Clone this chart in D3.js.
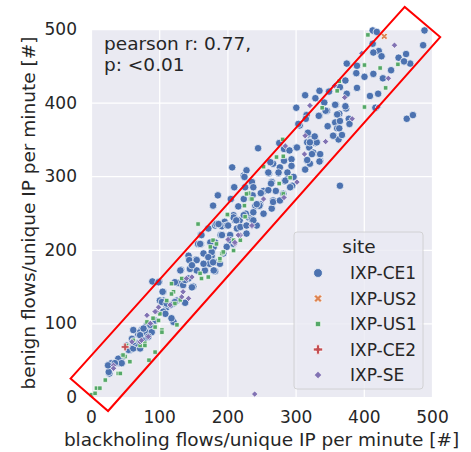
<!DOCTYPE html>
<html>
  <head>
    <meta http-equiv="content-type" content="text/html; charset=UTF-8">
    <title>blackholing vs benign</title>
    <script type='text/javascript' src='https://d3js.org/d3.v7.min.js'></script>
    <style type='text/css'>
      body { margin: 0; background-color: white; }
      text { font-family: "DejaVu Sans", sans-serif; fill: #262626; }
    </style>
  </head>
  <body>
    <script type='text/javascript'>
      var ticks = [0, 100, 200, 300, 400, 500];
      var sites = ["IXP-CE1", "IXP-US2", "IXP-US1", "IXP-CE2", "IXP-SE"];
      var colors = ["#4C72B0", "#DD8452", "#55A868", "#C44E52", "#8172B3"];
      var annotation = ["pearson r: 0.77,", "p: <0.01"];
      // hand drawn highlight box, in data units
      var box = [[-30, 25], [25, -19], [512, 489], [460, 530]];

      var ce1 = [
        [413,498],[419,496],[489,498],[487,478],[413,480],[422,470],[414,468],[426,463],[451,461],[462,466],
        [468,453],[459,456],[440,444],[428,433],[414,439],[401,435],[390,450],[389,440],[375,453],[373,430],
        [365,421],[390,420],[409,409],[421,412],[417,393],[375,412],[359,397],[374,392],[335,416],[349,415],
        [342,400],[329,406],[314,410],[301,393],[316,383],[335,382],[346,389],[364,385],[358,373],[378,378],
        [365,375],[347,368],[361,365],[379,371],[315,378],[306,369],[319,357],[356,355],[363,350],[463,378],
        [472,383],[365,287],[245,338],[276,345],[283,337],[291,335],[301,339],[317,346],[320,339],[329,345],
        [326,332],[336,329],[317,321],[336,321],[314,309],[321,317],[294,323],[283,321],[267,317],[277,312],
        [261,304],[275,304],[290,299],[295,287],[284,293],[265,292],[253,280],[236,292],[224,301],[210,285],
        [237,274],[248,262],[265,256],[253,249],[267,267],[241,260],[224,269],[218,240],[209,247],[231,244],
        [207,312],[228,308],[225,299],[186,274],[179,260],[205,269],[216,259],[227,249],[247,260],[263,319],
        [260,305],[275,305],[288,305],[264,290],[271,280],[260,281],[282,276],[267,265],[277,267],[292,285],
        [285,294],[294,314],[302,339],[331,346],[324,330],[336,330],[317,322],[335,320],[297,299],[358,397],
        [373,395],[361,384],[344,389],[364,365],[355,355],[368,356],[334,382],[318,359],[328,354],[321,346],
        [304,371],[249,277],[224,247],[236,241],[196,238],[182,233],[192,232],[243,233],[90,157],[100,157],
        [106,143],[128,155],[143,161],[132,173],[143,192],[154,187],[161,208],[161,220],[176,210],[184,235],
        [199,233],[211,240],[214,229],[190,220],[204,220],[228,222],[238,240],[165,195],[177,192],[172,181],
        [155,172],[145,174],[167,172],[182,171],[182,183],[180,204],[135,152],[150,150],[106,131],[126,131],
        [111,122],[199,204],[194,195],[189,181],[209,208],[121,102],[108,127],[106,116],[94,104],[82,98],
        [89,93],[74,91],[69,86],[62,91],[77,77],[60,79],[52,70],[57,64],[43,46],[28,43],[27,32],[131,172],
        [144,186],[157,208],[172,229],[180,172],[174,181],[138,159],[148,149],[121,127],[101,131],[47,55],
        [123,129],[116,125],[138,128],[72,88],[81,88],[62,70],[55,64],[40,52],[30,46],[26,34],[25,43],
        [72,84],[62,66],[45,46],[35,46],[72,66],[67,73],[99,156],[105,143],[109,113],[118,107],[87,98],
        [77,93],[89,88],[84,82],[62,75],[104,129],[123,156],[111,127],[226,285],[238,285],[209,244],[201,233],
        [187,235],[213,240],[219,231],[192,220],[204,213],[182,210],[175,210],[162,220],[160,208],[177,197],
        [172,190],[179,183],[155,186],[148,179],[165,181],[238,251],[243,262],[228,233]
      ];
      var us2 = [[430,490]];
      var us1 = [
        [406,492],[401,451],[424,447],[450,452],[432,420],[401,394],[361,416],[339,393],[364,429],[281,350],
        [272,326],[282,327],[253,313],[276,290],[282,276],[231,277],[225,260],[226,245],[234,269],[157,235],
        [199,247],[292,298],[201,247],[175,204],[189,186],[209,199],[209,213],[121,143],[133,161],[162,161],
        [118,154],[131,132],[172,163],[104,91],[126,98],[160,168],[94,61],[72,70],[50,55],[40,32],[21,23],
        [8,12],[1,3],[179,213],[192,195],[99,104],[79,73],[47,57],[85,50],
        [57,48],[43,32],[13,12],[6,5],[62,77],[52,70],[79,70],[118,140],[111,131],[101,113],[91,107],
        [104,88],[94,95],[82,102],[123,127],[228,276],[236,269],[200,248],[219,213],[194,197],[189,188],[184,208]
      ];
      var ce2 = [[50,68]];
      var se = [
        [445,478],[436,433],[421,394],[383,378],[357,423],[372,407],[321,396],[344,347],[313,330],[302,292],
        [285,341],[253,269],[236,232],[397,467],[283,271],[314,355],[211,208],[201,214],[135,143],[148,163],
        [143,134],[219,220],[140,161],[133,136],[96,116],[33,43],[72,75],[84,82],[240,4],
        [33,39],[74,77],[60,75],[99,122],[116,125],[94,116],[82,111],[87,100],[236,233],[216,220],[211,210]
      ];
      var series = [ce1, us2, us1, ce2, se];

      var W = 471, H = 452;
      var mLeft = 91, mRight = 432, mTop = 29, mBottom = 397;

      var svg = d3.select("body").append("svg").attr("width", W).attr("height", H);

      var x = d3.scaleLinear().domain([0, 500]).range([mLeft, mRight]);
      var y = d3.scaleLinear().domain([0, 500]).range([mBottom, mTop]);

      svg.append("rect")
        .attr("x", mLeft).attr("y", mTop)
        .attr("width", mRight - mLeft).attr("height", mBottom - mTop)
        .style("fill", "#EAEAF2");

      // grid + tick labels
      var xAxis = svg.append("g").attr("transform", "translate(0," + mBottom + ")")
        .call(d3.axisBottom(x).tickValues(ticks).tickSize(-(mBottom - mTop)).tickPadding(8));
      var yAxis = svg.append("g").attr("transform", "translate(" + mLeft + ",0)")
        .call(d3.axisLeft(y).tickValues(ticks).tickSize(-(mRight - mLeft)).tickPadding(14));
      [xAxis, yAxis].forEach(function(a) {
        a.select(".domain").remove();
        a.selectAll(".tick line").style("stroke", "white").style("stroke-width", 1.25);
        a.selectAll(".tick text").style("font-size", "17px").style("fill", "#262626")
          .attr("font-family", "DejaVu Sans");
      });
      xAxis.selectAll(".tick text").attr("dy", "1.05em");

      svg.append("clipPath").attr("id", "plotclip").append("rect")
        .attr("x", mLeft - 4).attr("y", mTop - 4)
        .attr("width", mRight - mLeft + 8).attr("height", mBottom - mTop + 8);

      var shapes = [d3.symbolCircle, d3.symbolX, d3.symbolSquare, d3.symbolCross, d3.symbolDiamond];
      var sizes = [44, 30, 20, 34, 20];

      function marker(i, size) {
        if (i == 1) {
          // filled x like matplotlib "X"
          var s = Math.sqrt(size) * 0.62, t = s * 0.5;
          return "M" + (-s) + "," + (-s + t) + "L" + (-s + t) + "," + (-s) + "L0," + (-t) + "L" + (s - t) + "," + (-s) +
            "L" + s + "," + (-s + t) + "L" + t + ",0L" + s + "," + (s - t) + "L" + (s - t) + "," + s + "L0," + t +
            "L" + (-s + t) + "," + s + "L" + (-s) + "," + (s - t) + "L" + (-t) + ",0Z";
        }
        if (i == 4) {
          // square diamond like matplotlib "D"
          var r = Math.sqrt(size / 2);
          return "M0," + (-r) + "L" + r + ",0L0," + r + "L" + (-r) + ",0Z";
        }
        return d3.symbol().type(shapes[i]).size(size)();
      }

      var pts = svg.append("g").attr("clip-path", "url(#plotclip)");
      series.forEach(function(data, i) {
        pts.selectAll(".s" + i).data(data).enter().append("path")
          .attr("transform", function(d) { return "translate(" + x(d[0]) + "," + y(d[1]) + ")"; })
          .attr("d", marker(i, sizes[i]))
          .style("fill", colors[i])
          .style("stroke", "white").style("stroke-width", 0.7);
      });

      // highlight box
      svg.append("path")
        .attr("d", d3.line().x(function(d) { return x(d[0]); }).y(function(d) { return y(d[1]); })(box) + "Z")
        .style("fill", "none").style("stroke", "#FF0000").style("stroke-width", 2);

      annotation.forEach(function(t, i) {
        svg.append("text").attr("x", 104).attr("y", 50 + i * 20.5)
          .style("font-size", "18.5px").text(t);
      });

      // axis labels
      svg.append("text").attr("x", (mLeft + mRight) / 2).attr("y", 446)
        .attr("text-anchor", "middle").style("font-size", "18.5px")
        .text("blackholing flows/unique IP per minute [#]");
      svg.append("text").attr("transform", "translate(35," + (mTop + mBottom) / 2 + ") rotate(-90)")
        .attr("text-anchor", "middle").style("font-size", "18.5px")
        .text("benign flows/unique IP per minute [#]");

      // legend
      var lg = svg.append("g");
      lg.append("rect").attr("x", 294).attr("y", 232).attr("width", 129).attr("height", 157)
        .attr("rx", 3).style("fill", "#EAEAF2").style("fill-opacity", 0.8)
        .style("stroke", "#cccccc").style("stroke-width", 0.8);
      lg.append("text").attr("x", 359).attr("y", 253).attr("text-anchor", "middle")
        .style("font-size", "18.5px").text("site");
      sites.forEach(function(s, i) {
        var cy = 273 + i * 25.5;
        lg.append("path").attr("transform", "translate(318," + cy + ")")
          .attr("d", marker(i, sizes[i] * 1.4))
          .style("fill", colors[i]).style("stroke", "white").style("stroke-width", 0.7);
        lg.append("text").attr("x", 350).attr("y", cy + 6).style("font-size", "17px").text(s);
      });
    </script>
  </body>
</html>
